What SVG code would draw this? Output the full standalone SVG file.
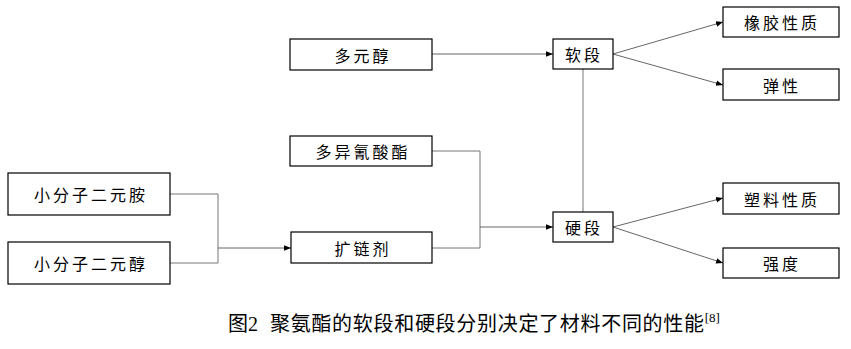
<svg xmlns="http://www.w3.org/2000/svg" width="851" height="349" viewBox="0 0 851 349">
<defs>
<marker id="ah" viewBox="0 0 10 10" refX="10" refY="5" markerWidth="7" markerHeight="7" markerUnits="userSpaceOnUse" orient="auto">
<path d="M0,1 L10,5 L0,9 Z" fill="#000"/>
</marker>
<style>
.box{fill:#fff;stroke:#000;stroke-width:1.2}
.t{font-family:"Noto Sans CJK SC",sans-serif;font-size:16px;letter-spacing:3px;fill:#000;text-anchor:middle;dominant-baseline:central}
.c{fill:none;stroke:#777;stroke-width:1}
.a{fill:none;stroke:#555;stroke-width:0.9;marker-end:url(#ah)}
.cap{font-family:"Liberation Serif","Noto Sans CJK SC",serif;font-size:20px;fill:#000}
</style>
</defs>
<rect width="851" height="349" fill="#fff"/>
<g id="connectors">
<polyline class="c" points="170,194 218,194 218,263 170,263"/>
<line class="a" x1="218" y1="248" x2="291" y2="248"/>
<polyline class="c" points="432,151 480,151 480,248 432,248"/>
<line class="a" x1="480" y1="227" x2="553" y2="227"/>
<line class="a" x1="432" y1="54" x2="553" y2="54"/>
<line class="c" x1="583" y1="69" x2="583" y2="212"/>
<line class="a" x1="613" y1="54" x2="723" y2="22"/>
<line class="a" x1="613" y1="54" x2="723" y2="85"/>
<line class="a" x1="613" y1="227" x2="723" y2="198"/>
<line class="a" x1="613" y1="227" x2="723" y2="263"/>
</g>
<g id="n_duoyuanchun"><rect class="box" x="290" y="39" width="142" height="31"/><text class="t" x="363" y="54.5">多元醇</text></g>
<g id="n_yiqingsuanzhi"><rect class="box" x="290" y="136" width="142" height="30"/><text class="t" x="363" y="151">多异氰酸酯</text></g>
<g id="n_eryuanan"><rect class="box" x="8" y="173" width="162" height="42"/><text class="t" x="91" y="194">小分子二元胺</text></g>
<g id="n_eryuanchun"><rect class="box" x="8" y="242" width="162" height="42"/><text class="t" x="91" y="263">小分子二元醇</text></g>
<g id="n_kuolianji"><rect class="box" x="291" y="232" width="141" height="31"/><text class="t" x="363" y="247.5">扩链剂</text></g>
<g id="n_ruanduan"><rect class="box" x="553" y="39" width="60" height="30"/><text class="t" x="584" y="54">软段</text></g>
<g id="n_yingduan"><rect class="box" x="553" y="212" width="60" height="30"/><text class="t" x="584" y="227">硬段</text></g>
<g id="n_xiangjiao"><rect class="box" x="723" y="7" width="116" height="30"/><text class="t" x="782" y="22">橡胶性质</text></g>
<g id="n_tanxing"><rect class="box" x="723" y="69" width="116" height="31"/><text class="t" x="782" y="84.5">弹性</text></g>
<g id="n_suliao"><rect class="box" x="723" y="183" width="116" height="31"/><text class="t" x="782" y="198.5">塑料性质</text></g>
<g id="n_qiangdu"><rect class="box" x="723" y="248" width="116" height="30"/><text class="t" x="782" y="263">强度</text></g>
<g id="caption">
<text class="cap" x="228" y="331">图2<tspan dx="12" letter-spacing="0.7">聚氨酯的软段和硬段分别决定了材料不同的性能</tspan><tspan font-size="13" dy="-9">[8]</tspan></text>
</g>
</svg>
